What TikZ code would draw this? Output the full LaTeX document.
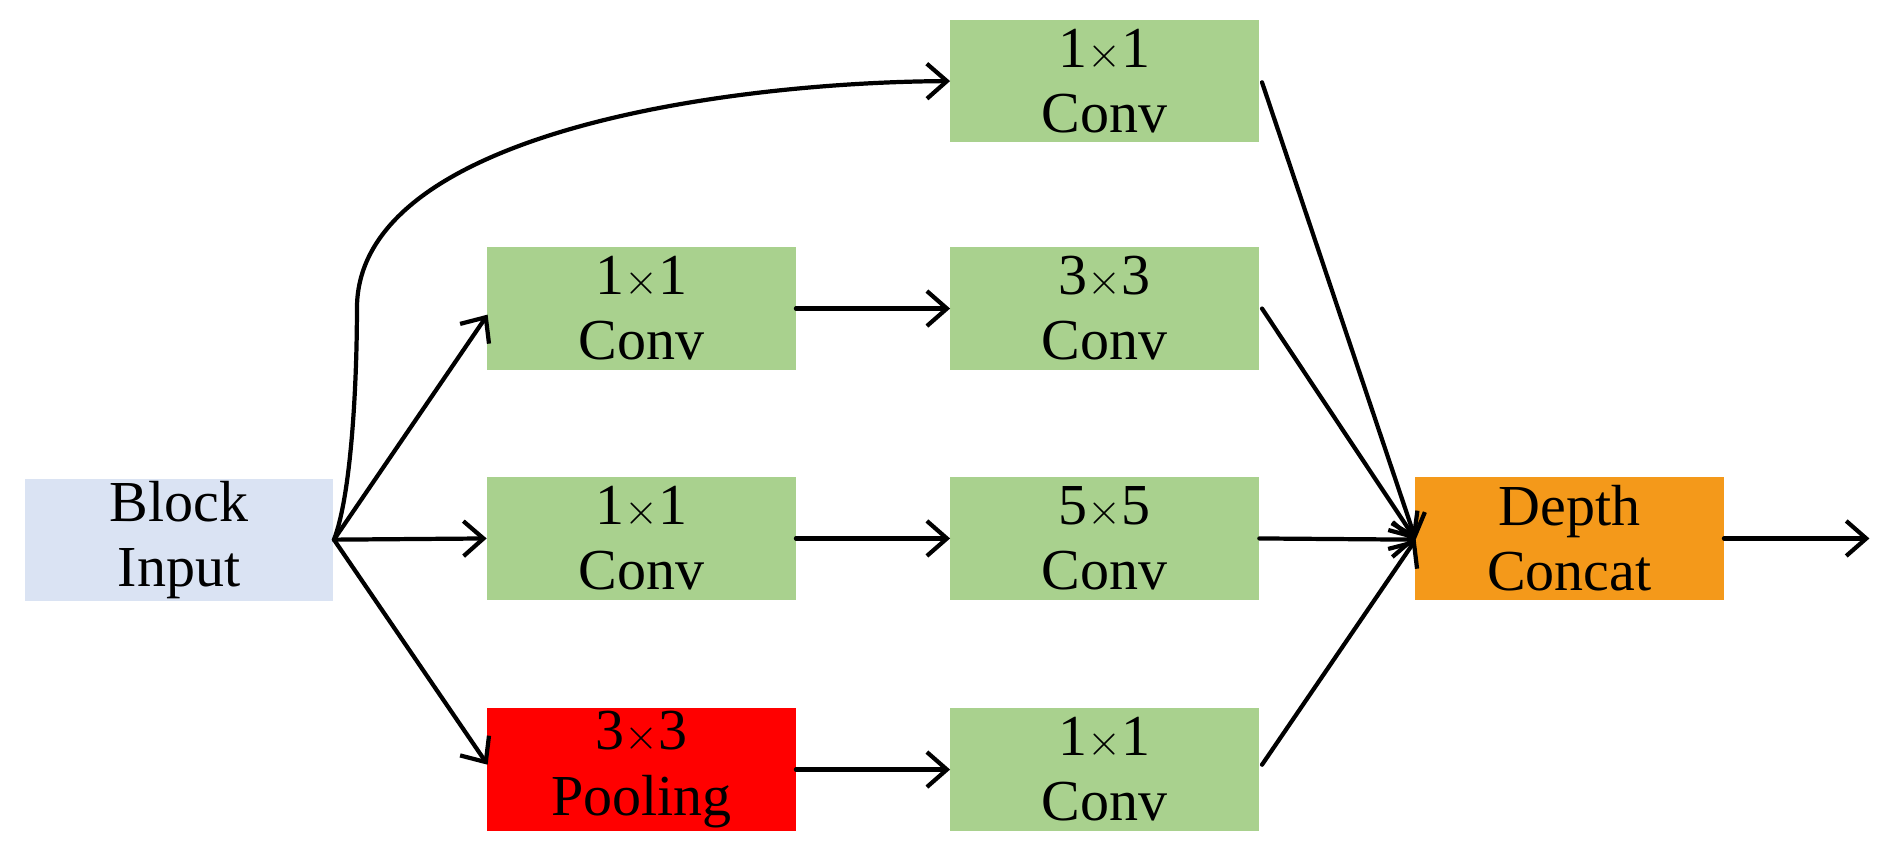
\documentclass[tikz,border=0pt]{standalone}
\usepackage{fontspec}
\setmainfont{Liberation Serif}
\usetikzlibrary{arrows.meta}
\definecolor{gr}{HTML}{A9D18E}
\definecolor{bl}{HTML}{DAE3F3}
\definecolor{og}{HTML}{F4991A}
\begin{document}
\begin{tikzpicture}[x=0.0242cm,y=-0.0242cm,
  box/.style={minimum width=255*0.0242cm,minimum height=101*0.0242cm,inner sep=0pt,align=center,font=\fontsize{33}{37}\selectfont},
  ar/.style={line width=2.4pt,line cap=round,-{Straight Barb[length=4mm,width=7mm,line width=2.4pt]}}]
\useasboundingbox (0,0) rectangle (1562,700);
\node[box,fill=bl] (in) at (148,446) {Block\\Input};
\node[box,fill=gr] (t) at (913,67) {1$\times$1\\Conv};
\node[box,fill=gr] (a1) at (530,255) {1$\times$1\\Conv};
\node[box,fill=gr] (a2) at (913,255) {3$\times$3\\Conv};
\node[box,fill=gr] (b1) at (530,445) {1$\times$1\\Conv};
\node[box,fill=gr] (b2) at (913,445) {5$\times$5\\Conv};
\node[box,fill=red] (c1) at (530,636) {3$\times$3\\Pooling};
\node[box,fill=gr] (c2) at (913,636) {1$\times$1\\Conv};
\node[box,fill=og] (d) at (1297,445) {Depth\\Concat};
\coordinate (f) at (276,446);
\coordinate (m) at (1170,446);
\coordinate (o) at (1545,445);
\draw[ar] (f) .. controls (290,410) and (295,320) .. (295,255) .. controls (295,110) and (600,68) .. (t.west);
\draw[ar] (f) -- (403,260);
\draw[ar] (f) -- (b1.west);
\draw[ar] (f) -- (403,632);
\draw[ar] (a1.east) -- (a2.west);
\draw[ar] (b1.east) -- (b2.west);
\draw[ar] (c1.east) -- (c2.west);
\draw[ar] (1043,68) -- (m);
\draw[ar] (1043,255) -- (m);
\draw[ar] (b2.east) -- (m);
\draw[ar] (1043,632) -- (m);
\draw[ar] (d.east) -- (o);
\end{tikzpicture}
\end{document}
